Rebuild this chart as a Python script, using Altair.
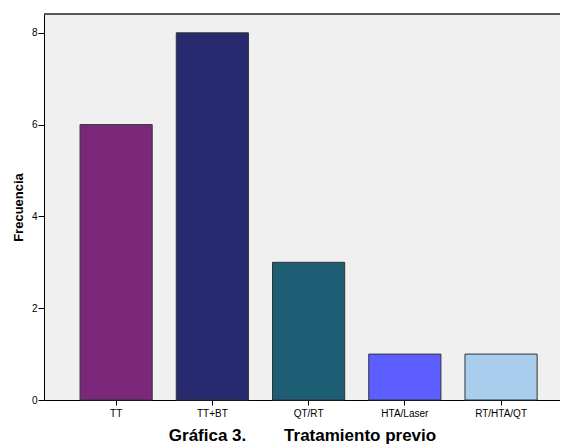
import altair as alt
import pandas as pd

categories = ["TT", "TT+BT", "QT/RT", "HTA/Laser", "RT/HTA/QT"]
counts = [6, 8, 3, 1, 1]
colors = ["#7B287B", "#282A70", "#1D5E74", "#5C5EFF", "#A9CDEC"]

df = pd.DataFrame({"cat": categories, "n": counts})

nb = "\u00a0"
xtitle = "Gráfica 3." + nb * 8 + "Tratamiento previo"
W = 516

bars = alt.Chart(df).mark_bar(stroke="#333333", strokeWidth=1).encode(
    x=alt.X("cat:N", sort=categories, title=xtitle,
            scale=alt.Scale(paddingInner=0.25, paddingOuter=0.306, align=0.612),
            axis=alt.Axis(labelAngle=0, labelFontSize=10, labelColor="#000000",
                          labelFont="Liberation Sans", tickColor="#000000", tickSize=5,
                          domainColor="#000000", titleFont="Liberation Sans",
                          titleFontSize=17, titleFontWeight="bold", titleColor="#000000",
                          titlePadding=9, labelPadding=3)),
    y=alt.Y("n:Q", title="Frecuencia",
            scale=alt.Scale(domain=[0, 8.41], nice=False),
            axis=alt.Axis(values=[0, 2, 4, 6, 8], grid=False, labelFontSize=10,
                          labelColor="#000000", labelFont="Liberation Sans",
                          tickColor="#000000", tickSize=6, domainColor="#000000",
                          titleFont="Liberation Sans", titleFontSize=13,
                          titleFontWeight="bold", titleColor="#000000", titlePadding=6,
                          labelPadding=1)),
    color=alt.Color("cat:N", sort=categories,
                    scale=alt.Scale(domain=categories, range=colors), legend=None),
)

top = alt.Chart(df).mark_rule(color="#555555", strokeWidth=1).encode(
    x=alt.value(0), x2=alt.value(W + 20), y=alt.value(0)
)

chart = alt.layer(bars, top).properties(
    width=W, height=386,
    autosize=alt.AutoSizeParams(type="none"),
    padding={"left": 36, "top": 6, "right": 0, "bottom": 46},
).configure_view(
    fill="#F0F0F0", strokeWidth=0
)

chart.save("out.html", embed_options={"renderer": "svg", "actions": False})
